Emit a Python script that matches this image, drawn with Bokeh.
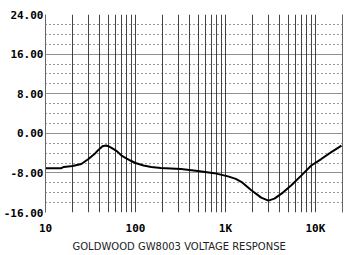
from bokeh.plotting import figure
from bokeh.models import FixedTicker, NumeralTickFormatter, Title, LinearAxis
from bokeh.embed import file_html
from bokeh.resources import INLINE

# Frequency response data (Hz, dB)
freq = [10, 15, 16, 20, 25, 30, 35, 38, 43, 47, 50, 56, 62, 70, 80, 90, 100,
        123, 150, 191, 320, 494, 750, 1070, 1300, 1500, 1940, 2500, 3000,
        3500, 4200, 5400, 7000, 9000, 11600, 15000, 19500]
level = [-7.05, -7.05, -6.8, -6.6, -6.2, -5.2, -4.2, -3.5, -2.6, -2.45, -2.6,
         -3.1, -3.6, -4.5, -5.1, -5.6, -6.0, -6.5, -6.8, -7.0, -7.2, -7.6,
         -8.05, -8.7, -9.2, -9.8, -11.5, -13.0, -13.6, -13.2, -12.2, -10.5,
         -8.5, -6.5, -5.2, -3.8, -2.5]

x_ticks = [10, 100, 1000, 10000]
x_tick_labels = {10: "10", 100: "100", 1000: "1K", 10000: "10K"}
y_ticks = [-16, -8, 0, 8, 16, 24]
y_minor = [v for v in range(-16, 25, 2) if v % 8 != 0]
x_grid = [m * d for d in (10, 100, 1000, 10000) for m in range(1, 10)] + [20000]
title_text = "GOLDWOOD GW8003 VOLTAGE RESPONSE"

p = figure(width=350, height=255, x_axis_type="log",
           x_range=(10, 20000), y_range=(-16, 24),
           output_backend="svg", toolbar_location=None,
           min_border_left=45, min_border_right=8,
           min_border_top=14, min_border_bottom=43)
p.outline_line_color = None
p.background_fill_color = "white"
p.border_fill_color = "white"

# vertical grid
p.xgrid.ticker = FixedTicker(ticks=x_grid)
p.xgrid.grid_line_color = "#444444"
p.xgrid.grid_line_width = 1

# horizontal grid: dense dots for major, sparse for minor
p.ygrid.ticker = FixedTicker(ticks=y_ticks, minor_ticks=y_minor)
p.ygrid.grid_line_color = "#222222"
p.ygrid.grid_line_dash = "1 1"
p.ygrid.minor_grid_line_color = "#333333"
p.ygrid.minor_grid_line_dash = "1 3"

# right border as an empty axis
right_axis = LinearAxis(ticker=FixedTicker(ticks=[], minor_ticks=[]),
                        axis_line_color="#666666",
                        major_tick_out=0, major_tick_in=0,
                        minor_tick_out=0, minor_tick_in=0,
                        major_label_standoff=0)
p.add_layout(right_axis, "right")

# axes
font = "DejaVu Sans Mono"
p.xaxis.ticker = FixedTicker(ticks=x_ticks)
p.xaxis.major_label_overrides = x_tick_labels
p.yaxis[0].ticker = FixedTicker(ticks=y_ticks)
p.yaxis[0].formatter = NumeralTickFormatter(format="0.00")
for ax in (p.xaxis[0], p.yaxis[0]):
    ax.axis_line_color = None
    ax.major_tick_line_color = None
    ax.minor_tick_line_color = None
    ax.major_tick_out = 0
    ax.major_tick_in = 0
    ax.minor_tick_out = 0
    ax.minor_tick_in = 0
    ax.major_label_text_font = font
    ax.major_label_text_font_style = "bold"
    ax.major_label_text_font_size = "11px"
    ax.major_label_text_color = "black"
p.yaxis[0].axis_line_color = "#666666"
p.yaxis[0].axis_line_width = 1
p.yaxis[0].major_label_standoff = 2
p.xaxis[0].major_label_standoff = 9

p.add_layout(Title(text=title_text, align="left", offset=27,
                   text_font="DejaVu Sans", text_font_style="normal",
                   text_font_size="10px", text_color="#222222",
                   standoff=2), "below")

p.line(freq, level, line_color="black", line_width=2)

open("out.html", "w").write(file_html(p, INLINE))
